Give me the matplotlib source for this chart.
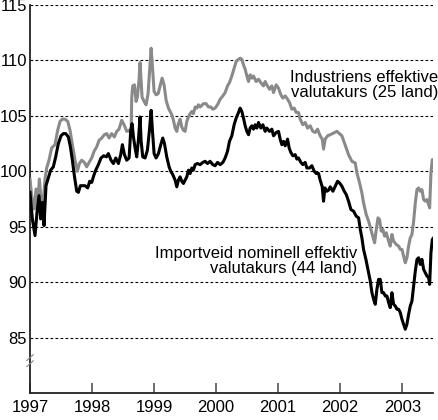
import matplotlib
matplotlib.use("Agg")
import matplotlib.pyplot as plt

# Industriens effektive valutakurs (25 land) - grey series
ind_t = [1997.000, 1997.027, 1997.070, 1997.097, 1997.124, 1997.151, 1997.177, 1997.204, 1997.242, 1997.269,
         1997.306, 1997.349, 1997.403, 1997.446, 1997.484, 1997.521, 1997.565, 1997.608, 1997.645, 1997.683,
         1997.726, 1997.763, 1997.796, 1997.833, 1997.876, 1997.914, 1997.952, 1997.995, 1998.032, 1998.075,
         1998.113, 1998.156, 1998.199, 1998.237, 1998.274, 1998.317, 1998.360, 1998.398, 1998.435, 1998.478,
         1998.516, 1998.559, 1998.597, 1998.629, 1998.640, 1998.656, 1998.683, 1998.710, 1998.731, 1998.758,
         1998.774, 1998.790, 1998.806, 1998.839, 1998.871, 1998.903, 1998.925, 1998.952, 1998.973, 1999.000,
         1999.032, 1999.065, 1999.097, 1999.129, 1999.161, 1999.194, 1999.231, 1999.258, 1999.285, 1999.312,
         1999.339, 1999.366, 1999.392, 1999.419, 1999.446, 1999.473, 1999.500, 1999.527, 1999.554, 1999.581,
         1999.608, 1999.634, 1999.661, 1999.688, 1999.715, 1999.742, 1999.796, 1999.839, 1999.876, 1999.914,
         1999.946, 1999.984, 2000.022, 2000.065, 2000.108, 2000.145, 2000.183, 2000.215, 2000.253, 2000.290,
         2000.323, 2000.360, 2000.387, 2000.414, 2000.441, 2000.468, 2000.495, 2000.522, 2000.548, 2000.575,
         2000.602, 2000.645, 2000.683, 2000.720, 2000.763, 2000.790, 2000.817, 2000.860, 2000.898, 2000.925,
         2000.968, 2001.005, 2001.043, 2001.075, 2001.113, 2001.151, 2001.183, 2001.220, 2001.258, 2001.290,
         2001.328, 2001.355, 2001.398, 2001.435, 2001.473, 2001.516, 2001.559, 2001.597, 2001.634, 2001.677,
         2001.710, 2001.731, 2001.758, 2001.796, 2001.839, 2001.947, 2002.027, 2002.108, 2002.134, 2002.188,
         2002.242, 2002.269, 2002.312, 2002.349, 2002.376, 2002.419, 2002.457, 2002.495, 2002.527, 2002.554,
         2002.581, 2002.608, 2002.634, 2002.661, 2002.688, 2002.715, 2002.742, 2002.780, 2002.806, 2002.833,
         2002.860, 2002.903, 2002.941, 2002.968, 2002.995, 2003.022, 2003.048, 2003.075, 2003.102, 2003.129,
         2003.156, 2003.183, 2003.210, 2003.237, 2003.263, 2003.290, 2003.317, 2003.344, 2003.371, 2003.398,
         2003.425, 2003.441, 2003.462, 2003.484, 2003.505]
ind_v = [99.3, 97.8, 96.6, 98.4, 96.9, 99.3, 97.5, 96.6, 99.3, 100.3,
         101.0, 102.1, 102.4, 103.7, 104.5, 104.7, 104.7, 104.5, 103.7, 102.4,
         101.0, 100.0, 100.7, 101.0, 100.8, 100.4, 100.8, 101.2, 101.8, 102.2,
         102.8, 103.0, 103.3, 103.4, 103.0, 103.4, 103.1, 103.6, 103.8, 104.6,
         104.2, 103.6, 103.7, 103.4, 106.7, 107.7, 107.8, 106.3, 106.7, 108.3,
         109.8, 108.3, 106.7, 106.3, 106.0, 107.0, 108.9, 111.1, 109.5, 107.2,
         106.9, 107.0, 107.7, 108.4, 107.8, 106.4, 105.7, 105.4, 105.1, 104.6,
         103.9, 103.6, 104.3, 104.7, 104.0, 103.7, 103.6, 104.5, 104.9, 105.2,
         105.4, 105.2, 105.8, 105.7, 106.0, 105.8, 106.1, 106.1, 105.8, 105.8,
         105.6, 105.7, 106.0, 106.5, 106.8, 107.1, 107.7, 108.0, 108.6, 109.3,
         109.9, 110.1, 110.2, 110.1, 109.6, 109.2, 108.6, 108.1, 108.7, 108.4,
         108.6, 108.1, 108.3, 108.0, 107.7, 108.1, 107.8, 107.4, 107.7, 107.1,
         107.8, 107.5, 106.9, 106.6, 106.8, 106.5, 106.2, 105.6, 105.7, 105.3,
         105.3, 104.7, 104.2, 104.4, 103.9, 104.1, 103.6, 103.5, 103.8, 103.2,
         102.9, 102.0, 102.9, 103.2, 103.3, 103.6, 103.2, 101.9, 101.5, 100.9,
         100.75, 99.85, 98.95, 98.05, 97.15, 96.1, 95.5, 94.75, 94.15, 93.55,
         94.75, 95.8, 95.65, 94.6, 94.75, 94.15, 94.45, 93.7, 93.25, 94.3,
         93.7, 93.4, 93.25, 92.95, 92.95, 92.35, 91.75, 92.2, 93.25, 94.0,
         94.3, 95.5, 97.15, 98.35, 98.5, 98.2, 98.35, 97.45, 97.3, 97.45,
         97.0, 96.7, 99.85, 101.05, 101.05]

# Importveid nominell effektiv valutakurs (44 land) - black series
imp_t = [1997.000, 1997.038, 1997.081, 1997.113, 1997.145, 1997.172, 1997.199, 1997.226, 1997.258, 1997.296,
         1997.333, 1997.376, 1997.414, 1997.457, 1997.500, 1997.538, 1997.575, 1997.618, 1997.651, 1997.683,
         1997.715, 1997.753, 1997.780, 1997.812, 1997.844, 1997.887, 1997.930, 1997.962, 1997.995, 1998.027,
         1998.059, 1998.102, 1998.145, 1998.188, 1998.231, 1998.263, 1998.306, 1998.344, 1998.382, 1998.425,
         1998.462, 1998.489, 1998.522, 1998.559, 1998.597, 1998.624, 1998.645, 1998.667, 1998.694, 1998.720,
         1998.747, 1998.774, 1998.790, 1998.817, 1998.855, 1998.892, 1998.925, 1998.952, 1998.973, 1999.000,
         1999.032, 1999.070, 1999.108, 1999.140, 1999.167, 1999.204, 1999.242, 1999.269, 1999.301, 1999.339,
         1999.366, 1999.392, 1999.419, 1999.446, 1999.473, 1999.500, 1999.527, 1999.554, 1999.581, 1999.608,
         1999.634, 1999.661, 1999.699, 1999.742, 1999.785, 1999.823, 1999.860, 1999.903, 1999.946, 1999.984,
         2000.022, 2000.065, 2000.108, 2000.145, 2000.183, 2000.215, 2000.253, 2000.290, 2000.323, 2000.360,
         2000.387, 2000.414, 2000.441, 2000.468, 2000.495, 2000.522, 2000.548, 2000.575, 2000.602, 2000.629,
         2000.656, 2000.683, 2000.720, 2000.753, 2000.790, 2000.817, 2000.860, 2000.898, 2000.925, 2000.968,
         2001.005, 2001.032, 2001.059, 2001.086, 2001.113, 2001.151, 2001.177, 2001.204, 2001.237, 2001.274,
         2001.301, 2001.328, 2001.366, 2001.398, 2001.435, 2001.462, 2001.505, 2001.543, 2001.581, 2001.613,
         2001.651, 2001.677, 2001.710, 2001.731, 2001.753, 2001.785, 2001.812, 2001.839, 2001.882, 2001.919,
         2001.957, 2001.989, 2002.027, 2002.065, 2002.097, 2002.134, 2002.172, 2002.215, 2002.258, 2002.296,
         2002.323, 2002.349, 2002.376, 2002.414, 2002.446, 2002.484, 2002.511, 2002.538, 2002.565, 2002.591,
         2002.618, 2002.645, 2002.672, 2002.699, 2002.726, 2002.753, 2002.780, 2002.806, 2002.833, 2002.860,
         2002.887, 2002.914, 2002.941, 2002.968, 2002.995, 2003.022, 2003.048, 2003.075, 2003.102, 2003.129,
         2003.156, 2003.183, 2003.210, 2003.237, 2003.263, 2003.290, 2003.317, 2003.344, 2003.371, 2003.398,
         2003.425, 2003.441, 2003.462, 2003.484, 2003.505]
imp_v = [98.1, 95.7, 94.2, 96.3, 97.8, 95.7, 97.2, 95.1, 98.7, 99.4,
         100.1, 100.4, 101.3, 102.5, 103.2, 103.4, 103.4, 103.1, 102.2, 101.0,
         99.6, 98.2, 98.1, 98.7, 98.7, 98.7, 98.5, 99.1, 99.0, 99.6,
         100.1, 100.6, 101.2, 101.4, 101.3, 101.6, 101.0, 100.7, 101.2, 100.7,
         101.5, 102.4, 101.5, 101.0, 101.2, 103.7, 104.3, 103.1, 102.1, 101.3,
         102.8, 104.9, 102.8, 101.3, 101.2, 101.9, 103.7, 105.5, 103.7, 101.6,
         101.2, 101.6, 102.4, 103.0, 102.5, 101.3, 100.4, 100.0, 99.7, 99.2,
         98.6, 99.2, 99.5, 99.1, 98.9, 99.2, 99.5, 100.1, 99.8, 100.3,
         100.1, 100.6, 100.7, 100.6, 100.8, 100.9, 100.7, 100.9, 100.6, 100.5,
         100.8, 100.6, 100.8, 101.2, 101.8, 102.7, 103.2, 104.2, 104.8, 105.3,
         105.7, 105.4, 104.8, 104.1, 103.6, 103.3, 103.9, 104.1, 103.8, 104.2,
         103.9, 104.4, 103.9, 104.2, 103.6, 103.9, 103.6, 103.8, 103.2, 103.5,
         103.6, 102.9, 102.4, 102.7, 102.3, 102.9, 102.1, 101.7, 101.4, 101.5,
         101.1, 101.2, 100.8, 100.6, 100.8, 100.3, 100.3, 100.5, 100.0, 99.8,
         99.8, 99.2, 98.6, 97.3, 98.5, 98.2, 98.3, 98.6, 98.2, 98.65,
         99.1, 98.95, 98.65, 98.2, 97.9, 97.3, 96.55, 96.4, 95.95, 95.8,
         94.75, 94.0, 92.95, 92.05, 91.15, 90.1, 89.05, 88.45, 88.0, 89.35,
         90.25, 90.25, 89.05, 89.05, 88.75, 88.75, 88.15, 87.7, 89.05, 88.0,
         87.85, 87.55, 87.55, 87.25, 86.65, 86.2, 85.75, 86.2, 87.1, 87.85,
         88.3, 89.65, 91.0, 92.05, 92.2, 91.6, 92.05, 91.15, 90.85, 90.55,
         90.4, 89.8, 92.65, 93.85, 94.0]

year_ticks = [1997, 1998, 1999, 2000, 2001, 2002, 2003]
y_ticks = [85, 90, 95, 100, 105, 110, 115]
label_ind = "Industriens effektive\nvalutakurs (25 land)"
label_imp = "Importveid nominell effektiv\nvalutakurs (44 land)"

plt.rcParams['font.family'] = ['Liberation Sans', 'DejaVu Sans']

fig = plt.figure(figsize=(4.39, 4.20), dpi=100)
ax = fig.add_axes([30/439, 1 - 393/420, (433.3 - 30)/439, (393 - 5)/420])

ax.set_xlim(1997, 2003.5)
ax.set_ylim(80, 115)

for v in y_ticks:
    ax.axhline(v, color='black', lw=0.8, linestyle=(0, (2.5, 2)), zorder=1)

ax.plot(ind_t, ind_v, color='#8a8a8a', lw=2.2, zorder=3, solid_joinstyle='round')
ax.plot(imp_t, imp_v, color='black', lw=2.2, zorder=4, solid_joinstyle='round')

for s in ['top', 'right']:
    ax.spines[s].set_visible(False)
for s in ['left', 'bottom']:
    ax.spines[s].set_linewidth(1.3)
    ax.spines[s].set_color('#222222')

ax.set_xticks(year_ticks)
ax.set_xticklabels([str(y) for y in year_ticks], fontsize=12)
ax.tick_params(axis='x', direction='in', length=7, width=1.2, color='#555555', pad=5)
ax.set_yticks(y_ticks)
ax.set_yticklabels([str(v) for v in y_ticks], fontsize=12)
ax.tick_params(axis='y', length=0, pad=2)

ax.text(2003.575, 107.8, label_ind, ha='right', va='center', fontsize=12,
        linespacing=1.0, zorder=5)
ax.text(2002.27, 91.9, label_imp, ha='right', va='center', fontsize=12,
        linespacing=1.0, zorder=5)

# axis break marks
for dy in (0, 0.55):
    ax.plot([-0.008, 0.008], [0.068 + dy / 35, 0.083 + dy / 35], transform=ax.transAxes,
            color='#888888', lw=0.8, clip_on=False, zorder=6)

fig.savefig('out.png', dpi=100)
